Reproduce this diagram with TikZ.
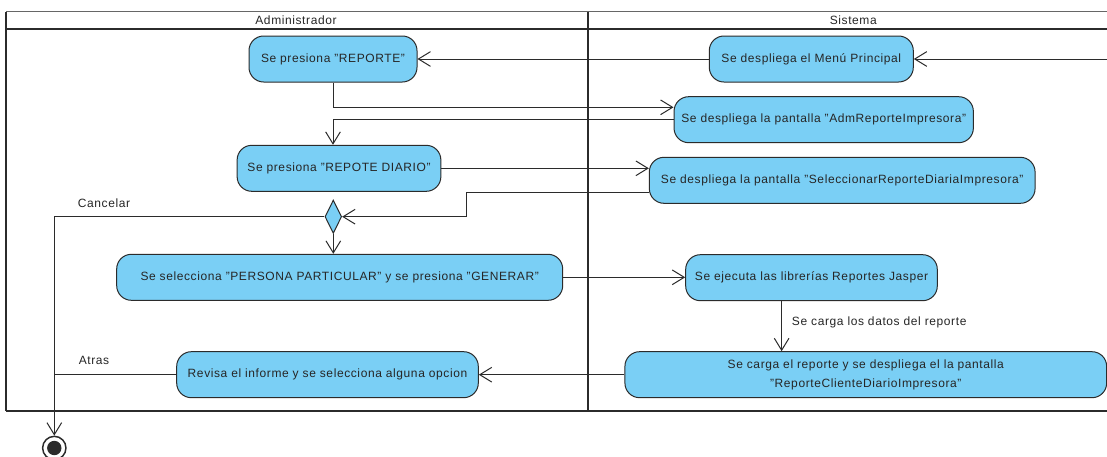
\documentclass[tikz,border=0pt]{standalone}
\usepackage{fontspec}
\setmainfont{Liberation Sans}[LetterSpace=5]
\usetikzlibrary{arrows.meta,shapes.geometric}
\definecolor{actfill}{HTML}{7ACFF5}
\definecolor{ink}{HTML}{2B2B2B}
\definecolor{txt}{HTML}{262626}
\begin{document}
\begin{tikzpicture}[x=0.75pt,y=-0.75pt,
  act/.style={draw=ink, line width=0.75pt, fill=actfill, rounded corners=11pt,
    minimum height=34.5pt, inner sep=0pt, font=\fontsize{9pt}{14.25pt}\selectfont,
    text=txt, align=center},
  flow/.style={draw=ink, line width=0.75pt, -{Straight Barb[length=9pt,width=11pt,line width=0.75pt]}},
  link/.style={draw=ink, line width=0.75pt},
  lbl/.style={font=\fontsize{9pt}{11pt}\selectfont, text=txt, inner sep=0pt}
]
\fill[white] (0,0) rectangle (1107,457);
\useasboundingbox (0,0) rectangle (1107,457);

% swimlane frame
\draw[line width=0.75pt, black!60] (6,11.7) -- (1107,11.7);
\draw[line width=1.6pt, ink] (6,29.3) -- (1107,29.3);
\draw[line width=1.2pt, ink] (6,11.7) -- (6,410.7);
\draw[line width=1.8pt, ink] (587.7,11.7) -- (587.7,410.7);
\draw[line width=1.6pt, ink] (6,410.7) -- (1107,410.7);
\node[lbl] (laneA) at (296,20.7) {Administrador};
\node[lbl] (laneB) at (853.3,20.7) {Sistema};

% activities
\node[act, minimum width=126pt] (rep) at (333,59) {Se presiona "REPORTE"};
\node[act, minimum width=153pt] (menu) at (811.3,59) {Se despliega el Menú Principal};
\node[act, minimum width=224.5pt] (adm) at (823.7,119.7) {Se despliega la pantalla "AdmReporteImpresora"};
\node[act, minimum width=152.8pt] (diario) at (339,168.3) {Se presiona "REPOTE DIARIO"};
\node[act, minimum width=289.3pt] (sel) at (842.2,180.3) {Se despliega la pantalla "SeleccionarReporteDiariaImpresora"};
\node[diamond, draw=ink, fill=actfill, line width=0.75pt, minimum width=12.5pt,
  minimum height=25pt, inner sep=0pt] (dia) at (333.3,216.7) {};
\node[act, minimum width=334.5pt] (persona) at (339.7,277.3) {Se selecciona "PERSONA PARTICULAR" y se presiona "GENERAR"};
\node[act, minimum width=188.7pt] (jasper) at (811.5,277.7) {Se ejecuta las librerías Reportes Jasper};
\node[act, minimum width=226.2pt] (revisa) at (327.5,374.7) {Revisa el informe y se selecciona alguna opcion};
\node[act, minimum width=361.3pt] (cliente) at (865.8,374.7) {Se carga el reporte y se despliega el la pantalla\\"ReporteClienteDiarioImpresora"};

% final node
\node[circle, draw=ink, fill=white, line width=1.1pt, minimum size=17.5pt, inner sep=0pt] (final) at (54.3,448) {};
\fill[ink] (final.center) circle (5.4pt);

\coordinate (entry) at (1107,59);
\coordinate (bend1) at (466.7,216.7);

% connectors
\draw[flow] (entry) -- (menu.east);
\draw[flow] (menu.west) -- (rep.east);
\draw[flow] (rep.south) |- ([yshift=9.3pt]adm.west);
\draw[flow] (adm.west) -| ([xshift=-4.5pt]diario.north);
\draw[flow] (diario.east) -- (diario.east -| sel.west);
\draw[flow] ([yshift=-9.2pt]sel.west) -| (bend1) -- (dia.east);
\draw[flow] (dia.west) -| (final.north);
\draw[flow] (dia.south) -- (dia.south |- persona.north);
\draw[flow] (persona.east) -- (persona.east -| jasper.west);
\draw[flow] ([xshift=-22.4pt]jasper.south) -- ([xshift=-22.4pt]jasper.south |- cliente.north);
\draw[flow] (cliente.west) -- (revisa.east);
\draw[link] (revisa.west) -- (revisa.west -| final.north);

% labels
\node[lbl] (cancel) at (104,203.3) {Cancelar};
\node[lbl] (atras) at (94,360.3) {Atras};
\node[lbl, anchor=west] (datos) at (791.7,322.3) {Se carga los datos del reporte};
\end{tikzpicture}
\end{document}
